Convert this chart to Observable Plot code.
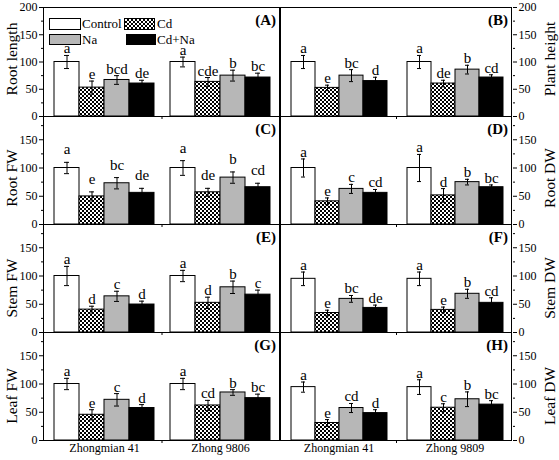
<!DOCTYPE html>
<html><head><meta charset="utf-8">
<script src="https://cdn.jsdelivr.net/npm/d3@7"></script>
<script src="https://cdn.jsdelivr.net/npm/@observablehq/plot@0.6"></script>
<style>
body{margin:0;background:#fff;}
#chart{position:relative;width:559px;height:460px;font-family:'Liberation Serif','Times New Roman',serif;}
#chart svg{position:absolute;overflow:visible;}
</style></head><body>
<svg width="0" height="0" style="position:absolute"><defs>
<pattern id="hatch" patternUnits="userSpaceOnUse" width="4" height="4">
<rect width="4" height="4" fill="white"/>
<path d="M0,0L4,4M4,0L0,4" stroke="black" stroke-width="1"/>
</pattern></defs></svg>
<div id="chart"></div>
<script>
// ---- data ----
const treatments = ["Control", "Cd", "Na", "Cd+Na"];
const leftCultivars = ["Zhongmian 41", "Zhong 9806"];
const rightCultivars = ["Zhongmian 41", "Zhong 9809"];
const majorTicksTop = [0, 50, 100, 150, 200];
const majorTicks = [0, 50, 100, 150];
const minorTicks = [25, 75, 125, 175];

const rootLength    = [100, 53, 67, 60.5, 100, 63.5, 75, 71.5];
const rootLengthErr = [12, 12, 8, 6, 9, 8, 10, 8];
const rootLengthSig = ["a", "e", "bcd", "de", "a", "cde", "b", "bc"];

const plantHeight    = [100, 52.5, 75, 65, 100, 60.5, 86, 71.5];
const plantHeightErr = [12, 5, 11, 7, 12, 6, 8, 5];
const plantHeightSig = ["a", "e", "bc", "d", "a", "de", "b", "cd"];

const rootFW    = [100, 49.7, 73, 56, 100, 57, 83, 66];
const rootFWErr = [10, 8, 10, 8, 13, 7, 10, 7];
const rootFWSig = ["a", "e", "bc", "de", "a", "de", "b", "cd"];

const rootDW    = [100, 41, 63, 56, 100, 51.5, 75, 66];
const rootDWErr = [16, 6, 8, 6, 24, 12, 5, 4];
const rootDWSig = ["a", "e", "c", "cd", "a", "d", "b", "bc"];

const stemFW    = [100, 40.5, 64, 49.5, 100, 52.5, 80, 67];
const stemFWErr = [17, 6, 9, 6, 10, 10, 11, 8];
const stemFWSig = ["a", "d", "c", "d", "a", "d", "b", "c"];

const stemDW    = [95, 34.5, 59.5, 43.5, 95, 40, 68.5, 52.5];
const stemDWErr = [12, 5, 6, 5, 12, 5, 8, 9];
const stemDWSig = ["a", "e", "bc", "de", "a", "e", "b", "cd"];

const leafFW    = [100, 45.5, 72, 57.5, 100, 62, 85, 75];
const leafFWErr = [10, 9, 11, 6, 10, 9, 5, 7];
const leafFWSig = ["a", "e", "c", "d", "a", "cd", "b", "bc"];

const leafDW    = [94.5, 31, 57.5, 48.5, 94.5, 58, 73, 63.5];
const leafDWErr = [9, 6, 8, 6, 13, 7, 13, 7];
const leafDWSig = ["a", "e", "cd", "d", "a", "c", "b", "bc"];

const panelTags = ["(A)", "(B)", "(C)", "(D)", "(E)", "(F)", "(G)", "(H)"];
const panelLabels = ["Root length", "Plant height", "Root FW", "Root DW", "Stem FW", "Stem DW", "Leaf FW", "Leaf DW"];
const panelValues = [rootLength, plantHeight, rootFW, rootDW, stemFW, stemDW, leafFW, leafDW];
const panelErrors = [rootLengthErr, plantHeightErr, rootFWErr, rootDWErr, stemFWErr, stemDWErr, leafFWErr, leafDWErr];
const panelSig = [rootLengthSig, plantHeightSig, rootFWSig, rootDWSig, stemFWSig, stemDWSig, leafFWSig, leafDWSig];

// ---- styles / layout ----
const fills = ["white", "url(#hatch)", "#b7b7b7", "black"];
const FONT = "'Liberation Serif', 'Times New Roman', serif";
const letterGap = [2, 2, 8, 2, 2, 2, 2, 2];
const colLeft = [0, 280], colWidth = [280, 279], colML = [43, 0], colMR = [0, 47];
const rowTop = [0, 111, 219, 327];
const colPadInner = [0.142, 0.147], colPadOuter = [0.09, 0.073];

const chart = document.getElementById("chart");

function makePanel(k, data, cultivars, axisDx) {
  const row = Math.floor(k / 2), col = k % 2;
  const marginTop = row === 0 ? 7 : 0;
  const marginBottom = row === 3 ? 20 : 0;
  const height = (row === 0 ? 109 : 113) + marginTop + marginBottom;
  const anchor = col === 0 ? "left" : "right";
  return Plot.plot({
    width: colWidth[col], height,
    marginTop, marginBottom, marginLeft: colML[col], marginRight: colMR[col],
    style: {fontFamily: FONT, fontSize: "12px", background: "transparent", overflow: "visible", color: "black"},
    fx: {domain: cultivars, paddingInner: colPadInner[col], paddingOuter: colPadOuter[col],
         axis: row === 3 ? "bottom" : null, tickSize: 0, tickPadding: 3, label: null},
    x: {domain: treatments, padding: 0, axis: null},
    y: {domain: [0, 200], label: null},
    color: {type: "ordinal", domain: treatments, range: fills},
    marks: [
      Plot.barY(data, {fx: "cultivar", x: "treatment", y: "v", fill: "treatment", stroke: "black", strokeWidth: 1}),
      Plot.ruleX(data, {fx: "cultivar", x: "treatment", y1: d => d.v - d.e, y2: d => d.v + d.e, stroke: "black", strokeWidth: 1}),
      Plot.tickY(data, {fx: "cultivar", x: "treatment", y: d => d.v + d.e, insetLeft: 10, insetRight: 10, stroke: "black"}),
      Plot.tickY(data, {fx: "cultivar", x: "treatment", y: d => d.v - d.e, insetLeft: 10, insetRight: 10, stroke: "black"}),
      Plot.text(data, {fx: "cultivar", x: "treatment", y: d => d.v + d.e, text: "sig", lineAnchor: "bottom", dy: -letterGap[k], fontSize: 15, fill: "black"}),
      Plot.axisY({anchor, dx: axisDx, ticks: row === 0 ? majorTicksTop : majorTicks, tickSize: 4, tickPadding: 2, label: null}),
      Plot.axisY({anchor, dx: axisDx, ticks: minorTicks, tickSize: 2, tickFormat: () => "", label: null})
    ]
  });
}

panelValues.forEach((vals, k) => {
  const row = Math.floor(k / 2), col = k % 2;
  const cultivars = col === 0 ? leftCultivars : rightCultivars;
  const data = vals.map((v, i) => ({
    cultivar: cultivars[Math.floor(i / 4)],
    treatment: treatments[i % 4],
    v, e: panelErrors[k][i], sig: panelSig[k][i]
  }));
  // probe to find how far the facet edge sits inside the panel frame
  const probe = makePanel(k, data, cultivars, 0);
  const pfx = probe.scale("fx");
  const xl = colML[col], xr = colWidth[col] - colMR[col];
  const axisDx = col === 0
    ? xl - pfx.apply(cultivars[0])
    : xr - (pfx.apply(cultivars[1]) + pfx.bandwidth);
  const plot = makePanel(k, data, cultivars, axisDx);
  plot.style.left = colLeft[col] + "px";
  plot.style.top = rowTop[row] + "px";
  chart.appendChild(plot);

  // panel frame
  const ys = plot.scale("y");
  const y0 = ys.apply(0), y200 = ys.apply(200);
  const g = d3.select(plot).append("g").attr("stroke", "black").attr("stroke-width", 1).attr("fill", "none");
  const yTop = row === 0 ? y200 : 0;
  g.append("line").attr("x1", xl + 0.5).attr("x2", xl + 0.5).attr("y1", yTop).attr("y2", y0);
  g.append("line").attr("x1", xr - 0.5).attr("x2", xr - 0.5).attr("y1", yTop).attr("y2", y0);
  g.append("line").attr("x1", xl).attr("x2", xr).attr("y1", y0 + 0.5).attr("y2", y0 + 0.5);
  if (row === 0) g.append("line").attr("x1", xl).attr("x2", xr).attr("y1", y200 + 0.5).attr("y2", y200 + 0.5);
  const fx = plot.scale("fx");
  const xb = fx.apply(cultivars[1]) - (fx.step - fx.bandwidth) / 2;
  g.append("line").attr("x1", xb).attr("x2", xb).attr("y1", y0).attr("y2", y0 + 3);
});

// ---- overlay: axis titles, panel tags, legend ----
const ov = d3.select(chart).append("svg")
  .attr("width", 559).attr("height", 460)
  .style("left", "0px").style("top", "0px").style("pointer-events", "none")
  .attr("font-family", FONT);

const labelCenters = [59, 178, 288, 396];
const panelTops = [7, 116, 224, 332];
panelLabels.forEach((lab, k) => {
  const row = Math.floor(k / 2), col = k % 2;
  const bx = col === 0 ? 17 : 555;
  ov.append("text")
    .attr("transform", `translate(${bx},${labelCenters[row]}) rotate(-90)`)
    .attr("text-anchor", "middle").attr("font-size", 15.5).text(lab);
  ov.append("text")
    .attr("x", col === 0 ? 276 : 508).attr("y", panelTops[row] + 18)
    .attr("text-anchor", "end").attr("font-size", 15).attr("font-weight", "bold")
    .text(panelTags[k]);
});

const legendItems = [
  {i: 0, x: 49, y: 18, w: 31, h: 11, tx: 82, ty: 27.5},
  {i: 1, x: 124, y: 18, w: 30, h: 11, tx: 157, ty: 27.5},
  {i: 2, x: 49, y: 34, w: 31, h: 10, tx: 82, ty: 43.5},
  {i: 3, x: 126, y: 34, w: 29, h: 10, tx: 157, ty: 43.5}
];
legendItems.forEach(it => {
  ov.append("rect").attr("x", it.x + 0.5).attr("y", it.y + 0.5).attr("width", it.w).attr("height", it.h)
    .attr("fill", fills[it.i]).attr("stroke", "black");
  ov.append("text").attr("x", it.tx).attr("y", it.ty).attr("font-size", 13).text(treatments[it.i]);
});
</script>
</body></html>
